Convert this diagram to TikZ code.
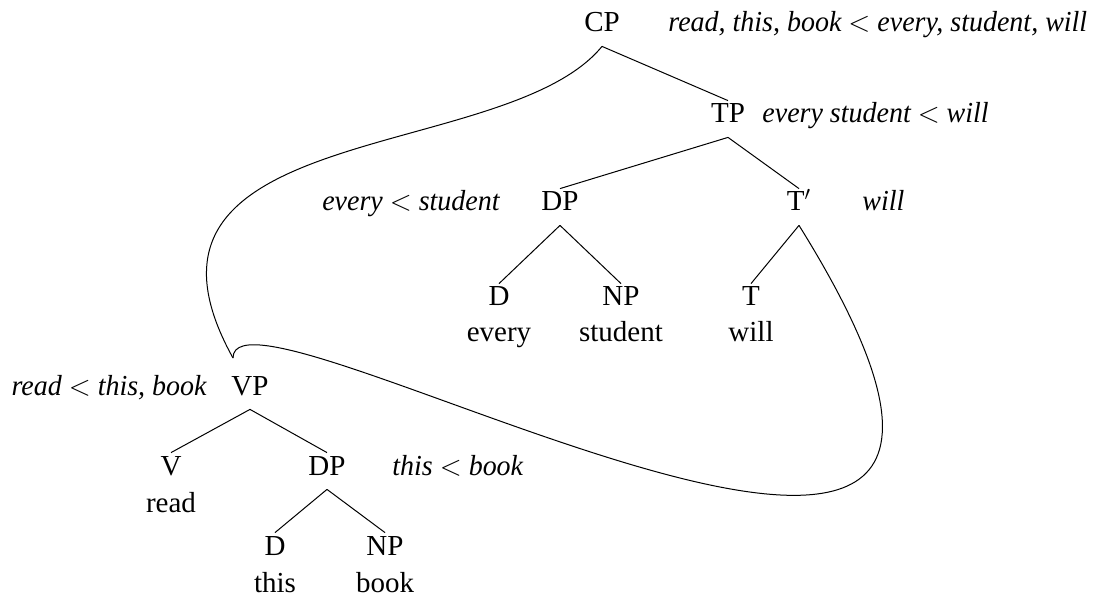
\documentclass[tikz,border=0pt]{standalone}
\usepackage{fontspec}
\setmainfont{Liberation Serif}
\newfontfamily\labfont[FakeStretch=0.965]{Liberation Serif}
\usetikzlibrary{calc}
\begin{document}
\begin{tikzpicture}[x=0.5pt,y=-0.5pt,
  every node/.style={font=\fontsize{14.5}{18.5}\selectfont},
  cat/.style={anchor=base,inner sep=0pt,text height=11pt,text depth=7pt},
  word/.style={anchor=base,inner sep=0pt},
  lab/.style={inner sep=0pt,font=\fontsize{14.5}{18.5}\selectfont\labfont\itshape},
  branch/.style={line width=0.5pt},
  move/.style={line width=0.5pt}]
\useasboundingbox (0,0) rectangle (1099,599);
% upper tree
\node[cat] (CP) at (602,32) {CP};
\node[cat] (TP) at (728,123) {TP};
\node[cat] (DPa) at (560,211) {DP};
\node[cat] (Tb) at (799,211) {T$'$};
\node[cat] (Da) at (499,306) {D};
\node[word] (wa) at (499,342) {every};
\node[cat] (NPa) at (621,306) {NP};
\node[word] (wb) at (621,342) {student};
\node[cat] (T) at (751,306) {T};
\node[word] (wc) at (751,342) {will};
% lower tree
\node[cat] (VP) at (250,395) {VP};
\node[cat] (V) at (171,475) {V};
\node[word] (wd) at (171,512) {read};
\node[cat] (DPb) at (327,475) {DP};
\node[cat] (Db) at (275,555) {D};
\node[word] (we) at (275,592) {this};
\node[cat] (NPb) at (385,555) {NP};
\node[word] (wf) at (385,592) {book};
% labels
\node[lab,anchor=base west] (lCP) at (668,32) {read, this, book $<$ every, student, will};
\node[lab,anchor=base west] (lTP) at (762,123) {every student $<$ will};
\node[lab,anchor=base east] (lDPa) at (500,211) {every $<$ student};
\node[lab,anchor=base west] (lTb) at (862,211) {will};
\node[lab,anchor=base east] (lVP) at (207,395) {read $<$ this, book};
\node[lab,anchor=base west] (lDPb) at (392,475) {this $<$ book};
% branches
\draw[branch] (CP.south) -- (TP.north);
\draw[branch] (TP.south) -- (DPa.north);
\draw[branch] (TP.south) -- (Tb.north);
\draw[branch] (DPa.south) -- (Da.north);
\draw[branch] (DPa.south) -- (NPa.north);
\draw[branch] (Tb.south) -- (T.north);
\draw[branch] (VP.south) -- (V.north);
\draw[branch] (VP.south) -- (DPb.north);
\draw[branch] (DPb.south) -- (Db.north);
\draw[branch] (DPb.south) -- (NPb.north);
% multidominance curves
\coordinate (vpc) at (233,358);
\draw[move] (CP.south) .. controls (505,165) and (100,118) .. (vpc);
\draw[move] (vpc) .. controls (233,255) and (1160,805) .. (Tb.south);
\end{tikzpicture}
\end{document}
